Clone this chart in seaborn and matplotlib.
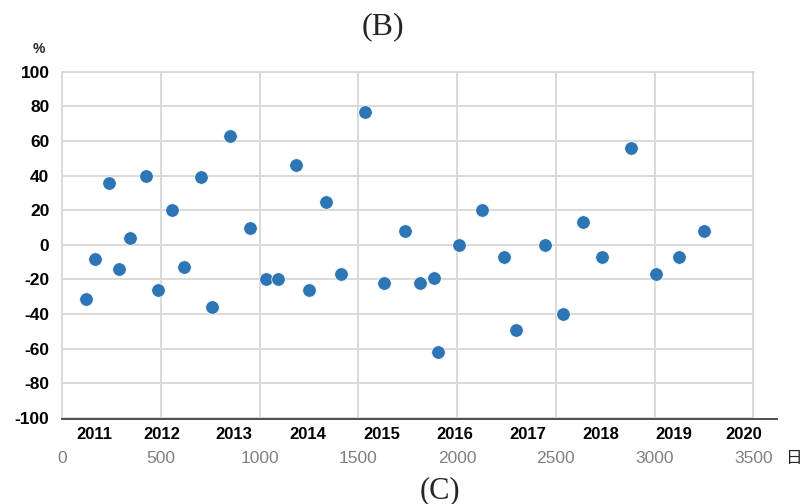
import numpy as np
import pandas as pd
import matplotlib
matplotlib.use("Agg")
import matplotlib.pyplot as plt
import seaborn as sns

# elapsed days and change (%)
days = [123, 169, 236, 287, 343, 427, 485, 559, 620, 704, 760, 851, 953,
        1032, 1093, 1184, 1252, 1336, 1411, 1532, 1628, 1737, 1814, 1884,
        1901, 2009, 2125, 2238, 2296, 2446, 2537, 2639, 2733, 2880, 3005,
        3124, 3249]
change = [-31, -8, 36, -14, 4, 40, -26, 20, -13, 39, -36, 63, 10,
          -20, -20, 46, -26, 25, -17, 77, -22, 8, -22, -19,
          -62, 0, 20, -7, -49, 0, -40, 13, -7, 56, -17,
          -7, 8]

years = ['2011', '2012', '2013', '2014', '2015', '2016', '2017', '2018', '2019', '2020']
year_bounds = [0, 324, 686, 1058, 1431, 1802, 2173, 2547, 2913, 3284, 3618]

x_ticks = [0, 500, 1000, 1500, 2000, 2500, 3000, 3500]
y_ticks = [-100, -80, -60, -40, -20, 0, 20, 40, 60, 80, 100]

df = pd.DataFrame({'day': days, 'change': change})

sns.set_style("whitegrid")
plt.rcParams['font.family'] = ['Liberation Sans', 'DejaVu Sans']
plt.rcParams['axes.unicode_minus'] = False

W, H = 803, 504
fig = plt.figure(figsize=(W / 100, H / 100), dpi=100)

# main scatter panel
ax = fig.add_axes([62 / W, 1 - 418 / H, (753.5 - 62) / W, (418 - 71.7) / H])
sns.scatterplot(data=df, x='day', y='change', ax=ax, s=95, color='#2e75b6',
                edgecolor='white', linewidth=0.5, zorder=3)
ax.set_xlim(0, 3500)
ax.set_ylim(-100, 100)
ax.set_xticks(x_ticks)
ax.set_yticks(y_ticks)
ax.set_xlabel('')
ax.set_ylabel('')
ax.grid(True, color='#d9d9d9', linewidth=1.4)
for side in ['left', 'top', 'right']:
    ax.spines[side].set_color('#d9d9d9')
    ax.spines[side].set_linewidth(1.4)
ax.spines['bottom'].set_visible(False)
ax.tick_params(axis='x', length=0, pad=24, labelcolor='#808080', labelsize=12.5)
ax.tick_params(axis='y', length=0, pad=9, labelcolor='black')
for lab in ax.get_yticklabels():
    lab.set_fontweight('bold')
    lab.set_fontsize(12.5)

# year axis below the plot
yax = fig.add_axes([62 / W, 1 - 419 / H, (776.7 - 62) / W, 0.0001])
yax.set_xlim(year_bounds[0], year_bounds[-1])
yax.patch.set_visible(False)
yax.grid(False)
yax.set_yticks([])
for side in ['left', 'top', 'right']:
    yax.spines[side].set_visible(False)
yax.spines['bottom'].set_color('#404040')
yax.spines['bottom'].set_linewidth(1.3)
yax.set_xticks(year_bounds[1:-1])
yax.set_xticklabels([])
mids = [(a + b) / 2 for a, b in zip(year_bounds[:-1], year_bounds[1:])]
yax.set_xticks(mids, minor=True)
yax.set_xticklabels(years, minor=True)
yax.tick_params(axis='x', which='major', direction='out', length=5, width=1.3,
                color='#404040')
yax.tick_params(axis='x', which='minor', length=0, pad=6, labelcolor='black')
for lab in yax.get_xticklabels(minor=True):
    lab.set_fontweight('bold')
    lab.set_fontsize(12)

fig.text(382.5 / W, 1 - 27 / H, '(B)', ha='center', va='center',
         family='Liberation Serif', fontsize=23)
fig.text(440 / W, 1 - 491 / H, '(C)', ha='center', va='center',
         family='Liberation Serif', fontsize=22)
fig.text(793 / W, 1 - 458 / H, '日', ha='center', va='center',
         family=['Noto Sans CJK JP', 'DejaVu Sans'], fontsize=12)
fig.text(39 / W, 1 - 49 / H, '%', ha='center', va='center', fontsize=10,
         fontweight='bold')

fig.savefig('out.png', dpi=100)
